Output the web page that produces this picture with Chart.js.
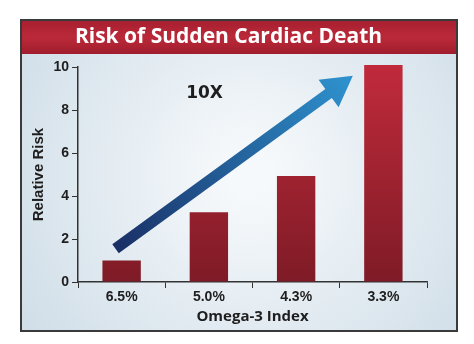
<!DOCTYPE html>
<html>
<head>
<meta charset="utf-8">
<script src="https://cdn.jsdelivr.net/npm/chart.js@4"></script>
<style>
  html, body { margin: 0; padding: 0; background: #fff; }
  #wrap { width: 474px; height: 344px; }
</style>
</head>
<body>
<div id="wrap"><canvas id="myChart" width="474" height="344"></canvas></div>
<script>
// data
const categories = ['6.5%', '5.0%', '4.3%', '3.3%'];
const relativeRisk = [1.0, 3.25, 4.93, 10.1];
const yTicks = [0, 2, 4, 6, 8, 10];
// arrow, in data units: [category index, risk]
const arrowFrom = [-0.07, 1.55];
const arrowTo = [2.65, 9.6];
const arrowLabel = '10X';

// frame + title band behind the chart
const framePlugin = {
    id: 'frame',
    beforeDraw(chart) {
        const c = chart.ctx;
        c.save();
        c.fillStyle = '#fff';
        c.fillRect(0, 0, chart.width, chart.height);
        let g = c.createRadialGradient(250, 175, 20, 250, 175, 300);
        g.addColorStop(0, '#f6f9fb');
        g.addColorStop(1, '#ccdbe6');
        c.fillStyle = g;
        c.fillRect(21, 20, 436, 311);
        let t = c.createLinearGradient(0, 20, 0, 54);
        t.addColorStop(0, '#a51f30');
        t.addColorStop(0.5, '#bb2939');
        t.addColorStop(1, '#a01d2d');
        c.fillStyle = t;
        c.fillRect(21, 20, 436, 34);
        c.strokeStyle = '#3a3a3a';
        c.lineWidth = 2;
        c.strokeRect(21, 20, 436, 311);
        c.restore();
    }
};

// the big arrow and its label
const arrowPlugin = {
    id: 'arrow',
    afterDatasetsDraw(chart) {
        const x = chart.scales.x, y = chart.scales.y, c = chart.ctx;
        const x0 = x.getPixelForValue(arrowFrom[0]), y0 = y.getPixelForValue(arrowFrom[1]);
        const x1 = x.getPixelForValue(arrowTo[0]), y1 = y.getPixelForValue(arrowTo[1]);
        const len = Math.hypot(x1 - x0, y1 - y0);
        const ang = Math.atan2(y1 - y0, x1 - x0);
        const shaft = 5.5, head = 30, hw = 17;
        c.save();
        c.translate(x0, y0);
        c.rotate(ang);
        let g = c.createLinearGradient(0, 0, len, 0);
        g.addColorStop(0, '#1a2f66');
        g.addColorStop(1, '#2e93cf');
        c.fillStyle = g;
        c.beginPath();
        c.moveTo(0, -shaft);
        c.lineTo(len - head, -shaft);
        c.lineTo(len - head, -hw);
        c.lineTo(len, 0);
        c.lineTo(len - head, hw);
        c.lineTo(len - head, shaft);
        c.lineTo(0, shaft);
        c.closePath();
        c.fill();
        c.restore();

        c.save();
        c.fillStyle = '#1e1e1e';
        c.font = 'bold 17px "DejaVu Sans"';
        c.textAlign = 'center';
        c.textBaseline = 'middle';
        c.fillText(arrowLabel, x.getPixelForValue(0.95), y.getPixelForValue(8.75));
        c.restore();
    }
};

const tickFont = { family: 'Liberation Sans', size: 14, weight: 'bold' };

const ctx = document.getElementById('myChart');
const myChart = new Chart(ctx, {
    type: 'bar',
    data: {
        labels: categories,
        datasets: [{
            label: 'Relative Risk',
            data: relativeRisk,
            clip: false,
            barPercentage: 0.44,
            categoryPercentage: 1,
            backgroundColor: function (context) {
                const area = context.chart.chartArea;
                if (!area) return '#a52232';
                const g = context.chart.ctx.createLinearGradient(0, area.top, 0, area.bottom);
                g.addColorStop(0, '#c02a3b');
                g.addColorStop(1, '#7e1b26');
                return g;
            }
        }]
    },
    options: {
        responsive: false,
        animation: false,
        layout: { padding: { left: 30, right: 47, top: 20, bottom: 18 } },
        plugins: {
            legend: { display: false },
            tooltip: { enabled: false },
            title: {
                display: true,
                text: 'Risk of Sudden Cardiac Death',
                color: '#fff',
                font: { family: 'Open Sans', size: 21, weight: 'bold' },
                padding: { top: 4, bottom: 18 }
            }
        },
        scales: {
            x: {
                grid: { drawOnChartArea: false, tickLength: 6, color: '#333', offset: true },
                border: { color: '#333', width: 1.5 },
                ticks: { color: '#1e1e1e', font: tickFont, padding: 1 },
                title: {
                    display: true,
                    text: 'Omega-3 Index',
                    color: '#1e1e1e',
                    font: { family: 'Open Sans', size: 15, weight: 'bold' },
                    padding: { top: 0, bottom: 0 }
                },
                afterFit(scale) { scale.height = 44; }
            },
            y: {
                min: 0,
                max: 10,
                afterBuildTicks(scale) { scale.ticks = yTicks.map(v => ({ value: v })); },
                grid: { drawOnChartArea: false, tickLength: 6, color: '#333' },
                border: { color: '#333', width: 1.5 },
                ticks: { color: '#1e1e1e', font: tickFont, padding: 3 },
                title: {
                    display: true,
                    text: 'Relative Risk',
                    color: '#1e1e1e',
                    font: { family: 'Liberation Sans', size: 15, weight: 'bold' },
                    padding: { top: 0, bottom: 2 }
                },
                afterFit(scale) { scale.width = 48; }
            }
        }
    },
    plugins: [framePlugin, arrowPlugin]
});
</script>
</body>
</html>
